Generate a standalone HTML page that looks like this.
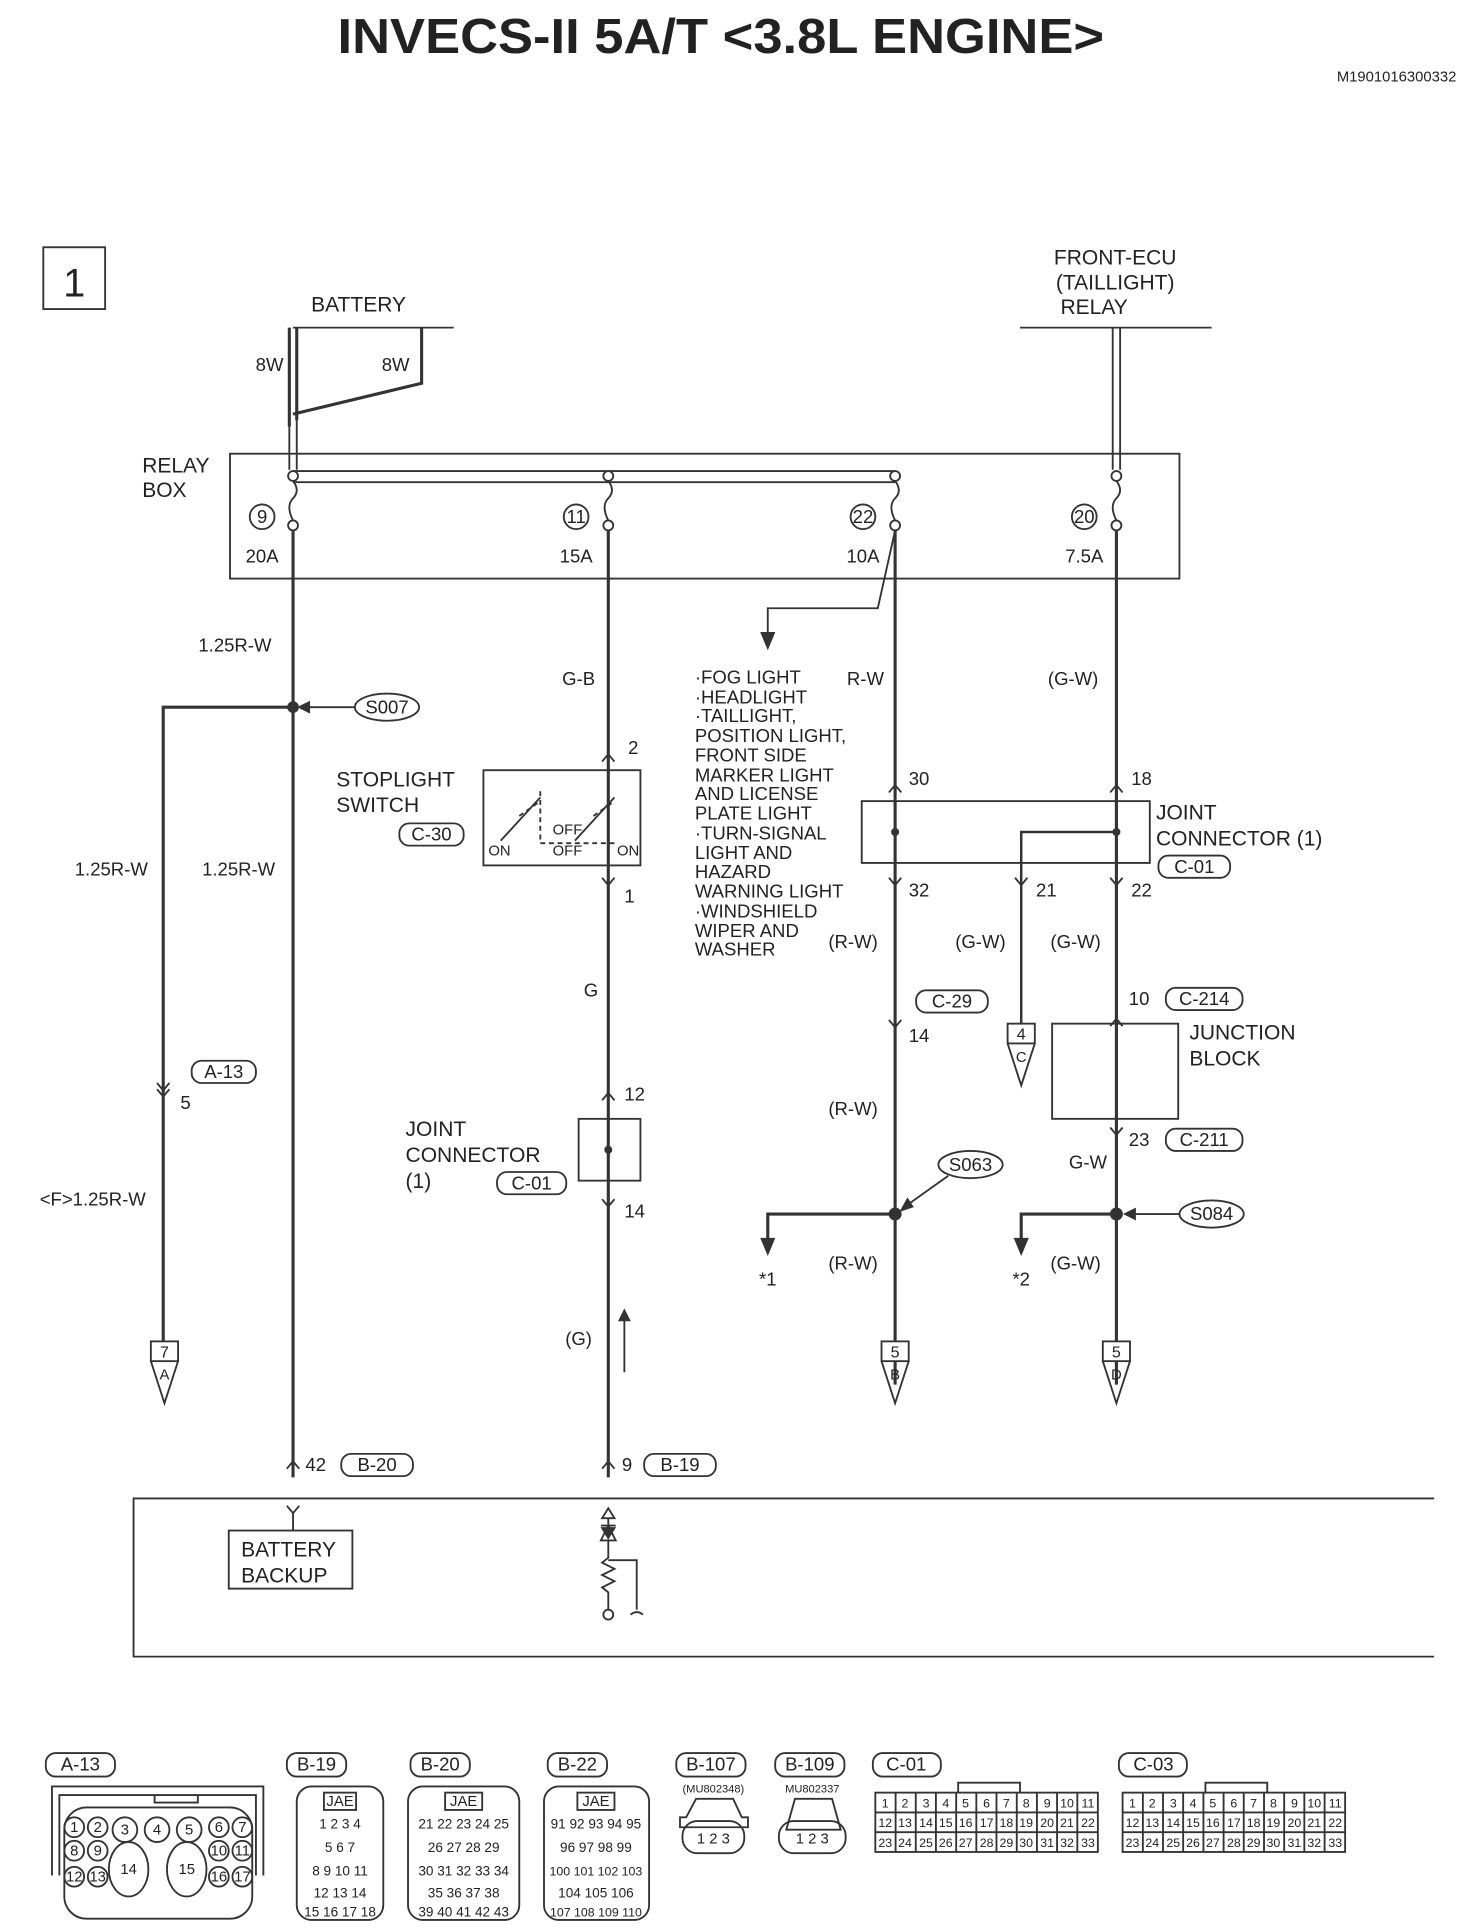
<!DOCTYPE html>
<html><head><meta charset="utf-8"><style>
html,body{margin:0;padding:0;background:#fff}
svg{display:block}
text{font-family:"Liberation Sans",sans-serif;fill:#222}
.l{font-size:17px}
.m{font-size:15px;font-family:"Liberation Sans Narrow","Liberation Sans",sans-serif}
.s{font-size:12px}
.b{font-size:13px}
</style></head><body>
<svg width="1472" height="1928" viewBox="0 0 1190.6 1559.5" xmlns="http://www.w3.org/2000/svg" stroke="#333" fill="none" stroke-width="1.5">
<text x="583" y="43" text-anchor="middle" style="font-size:40px;font-weight:bold" textLength="620" lengthAdjust="spacingAndGlyphs" stroke="none">INVECS-II 5A/T &lt;3.8L ENGINE&gt;</text>
<text x="1178" y="66" text-anchor="end" class="s" stroke="none">M1901016300332</text>
<rect x="35" y="200" width="50" height="50"/><text x="60" y="240" text-anchor="middle" style="font-size:32px" stroke="none">1</text>

<text x="290" y="252" text-anchor="middle" class="l" stroke="none">BATTERY</text>
<line x1="237" y1="265" x2="367" y2="265"/>
<path d="M234 265V345M240 265V340M341 265V310L237 335" stroke-width="2.5"/>
<text x="218" y="300" text-anchor="middle" class="m" stroke="none">8W</text>
<text x="320" y="300" text-anchor="middle" class="m" stroke="none">8W</text>
<text x="902" y="214" text-anchor="middle" class="l" stroke="none">FRONT-ECU</text>
<text x="902" y="234" text-anchor="middle" class="l" stroke="none">(TAILLIGHT)</text>
<text x="885" y="254" text-anchor="middle" class="l" stroke="none">RELAY</text>
<line x1="825" y1="265" x2="980" y2="265"/>
<path d="M900 265V380M906 265V380"/>
<rect x="186" y="367" width="768" height="101"/>
<text x="115" y="382" class="l" stroke="none">RELAY</text><text x="115" y="402" class="l" stroke="none">BOX</text>
<path d="M234 340V380M240 340V380M237 381H724M237 390H724" />
<g fill="#fff">
<circle cx="237" cy="385" r="4"/><circle cx="492" cy="385" r="4"/><circle cx="724" cy="385" r="4"/><circle cx="903" cy="385" r="4"/>
<circle cx="237" cy="425" r="4"/><circle cx="492" cy="425" r="4"/><circle cx="724" cy="425" r="4"/><circle cx="903" cy="425" r="4"/>
</g>
<path d="M237 389q6 8 0 14t0 18M492 389q6 8 0 14t0 18M724 389q6 8 0 14t0 18M903 389q6 8 0 14t0 18"/>
<g stroke="none" class="m" text-anchor="middle">
<circle cx="212" cy="418" r="10" stroke="#333" fill="none"/><text x="212" y="423">9</text>
<circle cx="466" cy="418" r="10" stroke="#333" fill="none"/><text x="466" y="423">11</text>
<circle cx="698" cy="418" r="10" stroke="#333" fill="none"/><text x="698" y="423">22</text>
<circle cx="877" cy="418" r="10" stroke="#333" fill="none"/><text x="877" y="423">20</text>
<text x="212" y="455">20A</text><text x="466" y="455">15A</text><text x="698" y="455">10A</text><text x="877" y="455">7.5A</text>
</g>
<path d="M237 429V1195M492 429V1195M724 429V1120M903 429V1120" stroke-width="2.5"/>
<path d="M724 429L710 492H621V520"/><path d="M616 512l5 12 5-12z" fill="#333"/>
<g class="m" stroke="none" text-anchor="middle">
<text x="190" y="527">1.25R-W</text><text x="468" y="554">G-B</text><text x="700" y="554">R-W</text><text x="868" y="554">(G-W)</text>
<text x="90" y="708">1.25R-W</text><text x="193" y="708">1.25R-W</text>
<text x="75" y="975">&lt;F&gt;1.25R-W</text>
</g>
<ellipse cx="313" cy="572" rx="26" ry="11"/><text x="313" y="577" text-anchor="middle" class="m" stroke="none">S007</text>
<path d="M287 572H244"/><path d="M250 568l-8 4 8 4z" fill="#333"/>
<circle cx="237" cy="572" r="4" fill="#333"/>
<path d="M237 572H132V1085" stroke-width="2.5"/>
<path d="M127 876l5 6 5-6M127 881l5 6 5-6"/>
<rect x="155" y="858" width="52" height="18" rx="8"/><text x="181" y="872" text-anchor="middle" class="m" stroke="none">A-13</text>
<text x="150" y="897" text-anchor="middle" class="m" stroke="none">5</text>
<rect x="122" y="1085" width="22" height="16"/><text x="133" y="1098" text-anchor="middle" class="b" stroke="none">7</text>
<path d="M122 1101L133 1135L144 1101"/><text x="133" y="1116" text-anchor="middle" class="s" stroke="none">A</text>
<text x="272" y="636" class="l" stroke="none">STOPLIGHT</text><text x="272" y="657" class="l" stroke="none">SWITCH</text>
<rect x="323" y="666" width="52" height="18" rx="8"/><text x="349" y="680" text-anchor="middle" class="m" stroke="none">C-30</text>
<rect x="391" y="623" width="127" height="77"/>
<path d="M437 640V682M420 660L437 648M480 660L497 648M437 682H497" stroke-dasharray="4 3"/>
<path d="M405 680L437 645M465 680L497 645"/>
<text x="395" y="692" class="s" stroke="none">ON</text><text x="447" y="675" class="s" stroke="none">OFF</text><text x="447" y="692" class="s" stroke="none">OFF</text><text x="499" y="692" class="s" stroke="none">ON</text>
<text x="508" y="610" class="m" stroke="none">2</text><text x="505" y="730" class="m" stroke="none">1</text>
<path d="M487 616l5-6 5 6M487 710l5 6 5-6M487 890l5-6 5 6M487 970l5 6 5-6M487 1188l5-6 5 6"/>
<path d="M719 641l5-6 5 6M898 641l5-6 5 6M719 710l5 6 5-6M821 710l5 6 5-6M898 710l5 6 5-6M719 825l5 6 5-6M898 830l5-6 5 6M898 912l5 6 5-6M232 1188l5-6 5 6"/>
<text x="478" y="806" text-anchor="middle" class="m" stroke="none">G</text>
<text x="505" y="890" class="m" stroke="none">12</text>
<rect x="468" y="905" width="50" height="50"/><circle cx="492" cy="930" r="2.5" fill="#333"/>
<text x="328" y="919" class="l" stroke="none">JOINT</text><text x="328" y="940" class="l" stroke="none">CONNECTOR</text><text x="328" y="961" class="l" stroke="none">(1)</text>
<rect x="402" y="948" width="56" height="18" rx="8"/><text x="430" y="962" text-anchor="middle" class="m" stroke="none">C-01</text>
<text x="505" y="985" class="m" stroke="none">14</text>
<text x="468" y="1088" text-anchor="middle" class="m" stroke="none">(G)</text>
<path d="M505 1110V1062"/><path d="M501 1068l4-8 4 8z" fill="#333"/>
<text x="247" y="1190" class="m" stroke="none">42</text>
<rect x="276" y="1176" width="58" height="18" rx="8"/><text x="305" y="1190" text-anchor="middle" class="m" stroke="none">B-20</text>
<text x="503" y="1190" class="m" stroke="none">9</text>
<rect x="521" y="1176" width="58" height="18" rx="8"/><text x="550" y="1190" text-anchor="middle" class="m" stroke="none">B-19</text>
<path d="M1160 1212H108V1340H1160"/>
<path d="M232 1218l5 6 5-6M237 1224V1238"/>
<rect x="185" y="1238" width="100" height="47"/>
<text x="195" y="1259" class="l" stroke="none">BATTERY</text><text x="195" y="1280" class="l" stroke="none">BACKUP</text>
<path d="M487 1228l5-8 5 8zM492 1228V1234M486 1234h12M486 1246l6-12 6 12zM492 1246V1260l-5 4 10 5-10 5 10 5-10 5 5 4V1302" />
<path d="M487 1236l5 8 5-8z" fill="#333"/>
<circle cx="492" cy="1306" r="4"/><path d="M492 1262H515V1302M510 1306q5 -4 10 0"/>
<g class="m" stroke="none">
<text x="562" y="553">·FOG LIGHT</text><text x="562" y="569">·HEADLIGHT</text><text x="562" y="584">·TAILLIGHT,</text><text x="562" y="600">POSITION LIGHT,</text><text x="562" y="616">FRONT SIDE</text><text x="562" y="632">MARKER LIGHT</text><text x="562" y="647">AND LICENSE</text><text x="562" y="663">PLATE LIGHT</text><text x="562" y="679">·TURN-SIGNAL</text><text x="562" y="695">LIGHT AND</text><text x="562" y="710">HAZARD</text><text x="562" y="726">WARNING LIGHT</text><text x="562" y="742">·WINDSHIELD</text><text x="562" y="758">WIPER AND</text><text x="562" y="773">WASHER</text>
</g>
<g class="m" stroke="none">
<text x="735" y="635">30</text><text x="915" y="635">18</text><text x="735" y="725">32</text><text x="838" y="725">21</text><text x="915" y="725">22</text>
<text x="690" y="767" text-anchor="middle">(R-W)</text><text x="793" y="767" text-anchor="middle">(G-W)</text><text x="870" y="767" text-anchor="middle">(G-W)</text>
<text x="735" y="843">14</text><text x="913" y="813">10</text><text x="913" y="927">23</text>
<text x="690" y="902" text-anchor="middle">(R-W)</text><text x="880" y="945" text-anchor="middle">G-W</text>
<text x="690" y="1027" text-anchor="middle">(R-W)</text><text x="870" y="1027" text-anchor="middle">(G-W)</text>
<text x="621" y="1040" text-anchor="middle">*1</text><text x="826" y="1040" text-anchor="middle">*2</text>
</g>
<rect x="697" y="648" width="233" height="50"/>
<circle cx="724" cy="673" r="2.5" fill="#333"/><circle cx="903" cy="673" r="2.5" fill="#333"/>
<path d="M903 673H826V828" stroke-width="2"/>
<text x="935" y="663" class="l" stroke="none">JOINT</text><text x="935" y="684" class="l" stroke="none">CONNECTOR (1)</text>
<rect x="937" y="692" width="58" height="18" rx="8"/><text x="966" y="706" text-anchor="middle" class="m" stroke="none">C-01</text>
<rect x="741" y="801" width="58" height="18" rx="8"/><text x="770" y="815" text-anchor="middle" class="m" stroke="none">C-29</text>
<rect x="815" y="828" width="22" height="16"/><text x="826" y="841" text-anchor="middle" class="b" stroke="none">4</text>
<path d="M815 844L826 878L837 844"/><text x="826" y="859" text-anchor="middle" class="s" stroke="none">C</text>
<rect x="943" y="799" width="62" height="18" rx="8"/><text x="974" y="813" text-anchor="middle" class="m" stroke="none">C-214</text>
<rect x="943" y="913" width="62" height="18" rx="8"/><text x="974" y="927" text-anchor="middle" class="m" stroke="none">C-211</text>
<rect x="851" y="828" width="102" height="77"/>
<text x="962" y="841" class="l" stroke="none">JUNCTION</text><text x="962" y="862" class="l" stroke="none">BLOCK</text>
<ellipse cx="785" cy="942" rx="26" ry="11"/><text x="785" y="947" text-anchor="middle" class="m" stroke="none">S063</text>
<path d="M767 951L732 976"/><path d="M734 970l-5 9 9-3z" fill="#333"/>
<circle cx="724" cy="982" r="4.5" fill="#333"/>
<path d="M724 982H621V1008" stroke-width="2.5"/><path d="M616 1002l5 12 5-12z" fill="#333"/>
<ellipse cx="980" cy="982" rx="26" ry="11"/><text x="980" y="987" text-anchor="middle" class="m" stroke="none">S084</text>
<path d="M954 982H912"/><path d="M918 978l-8 4 8 4z" fill="#333"/>
<circle cx="903" cy="982" r="4.5" fill="#333"/>
<path d="M903 982H826V1008" stroke-width="2.5"/><path d="M821 1002l5 12 5-12z" fill="#333"/>
<rect x="713" y="1085" width="22" height="16" fill="#fff"/><text x="724" y="1098" text-anchor="middle" class="b" stroke="none">5</text>
<path d="M713 1101L724 1135L735 1101"/><text x="724" y="1116" text-anchor="middle" class="s" stroke="none">B</text>
<rect x="892" y="1085" width="22" height="16" fill="#fff"/><text x="903" y="1098" text-anchor="middle" class="b" stroke="none">5</text>
<path d="M892 1101L903 1135L914 1101"/><text x="903" y="1116" text-anchor="middle" class="s" stroke="none">D</text>

<g class="m" stroke="none" text-anchor="middle">
<text x="65" y="1432">A-13</text><text x="256" y="1432">B-19</text><text x="356" y="1432">B-20</text><text x="467" y="1432">B-22</text>
<text x="575" y="1432">B-107</text><text x="655" y="1432">B-109</text><text x="733" y="1432">C-01</text><text x="933" y="1432">C-03</text>
</g>
<rect x="37" y="1418" width="56" height="19" rx="8"/><rect x="232" y="1418" width="48" height="19" rx="8"/><rect x="332" y="1418" width="48" height="19" rx="8"/><rect x="443" y="1418" width="48" height="19" rx="8"/><rect x="547" y="1418" width="56" height="19" rx="8"/><rect x="627" y="1418" width="56" height="19" rx="8"/><rect x="706" y="1418" width="55" height="19" rx="8"/><rect x="905" y="1418" width="55" height="19" rx="8"/>
<path d="M42 1517V1445H213V1517M48 1517V1452H207V1517M125 1452V1458H160V1452"/>
<rect x="52" y="1462" width="152" height="90" rx="18"/>
<g fill="none">
<circle cx="60" cy="1478" r="8"/><circle cx="79" cy="1478" r="8"/><circle cx="101" cy="1480" r="10"/><circle cx="127" cy="1480" r="10"/><circle cx="153" cy="1480" r="10"/><circle cx="177" cy="1478" r="8"/><circle cx="196" cy="1478" r="8"/>
<circle cx="60" cy="1497" r="8"/><circle cx="79" cy="1497" r="8"/><circle cx="177" cy="1497" r="8"/><circle cx="196" cy="1497" r="8"/>
<circle cx="60" cy="1518" r="8"/><circle cx="79" cy="1518" r="8"/><ellipse cx="104" cy="1512" rx="16" ry="22"/><ellipse cx="151" cy="1512" rx="16" ry="22"/><circle cx="177" cy="1518" r="8"/><circle cx="196" cy="1518" r="8"/>
</g>
<g class="s" stroke="none" text-anchor="middle">
<text x="60" y="1482">1</text><text x="79" y="1482">2</text><text x="101" y="1484">3</text><text x="127" y="1484">4</text><text x="153" y="1484">5</text><text x="177" y="1482">6</text><text x="196" y="1482">7</text>
<text x="60" y="1501">8</text><text x="79" y="1501">9</text><text x="177" y="1501">10</text><text x="196" y="1501">11</text>
<text x="60" y="1522">12</text><text x="79" y="1522">13</text><text x="104" y="1516">14</text><text x="151" y="1516">15</text><text x="177" y="1522">16</text><text x="196" y="1522">17</text>
</g>
<rect x="240" y="1445" width="70" height="108" rx="12"/><rect x="262" y="1450" width="26" height="14"/><text x="275" y="1461" text-anchor="middle" class="s" stroke="none">JAE</text>
<rect x="330" y="1445" width="90" height="108" rx="12"/><rect x="360" y="1450" width="30" height="14"/><text x="375" y="1461" text-anchor="middle" class="s" stroke="none">JAE</text>
<rect x="440" y="1445" width="85" height="108" rx="12"/><rect x="467" y="1450" width="30" height="14"/><text x="482" y="1461" text-anchor="middle" class="s" stroke="none">JAE</text>
<g class="s" stroke="none" text-anchor="middle" style="font-size:11px">
<text x="275" y="1479">1 2 3 4</text><text x="275" y="1498">5 6 7</text><text x="275" y="1517">8 9 10 11</text><text x="275" y="1535">12 13 14</text><text x="275" y="1550">15 16 17 18</text>
<text x="375" y="1479">21 22 23 24 25</text><text x="375" y="1498">26 27 28 29</text><text x="375" y="1517">30 31 32 33 34</text><text x="375" y="1535">35 36 37 38</text><text x="375" y="1550">39 40 41 42 43</text>
<text x="482" y="1479">91 92 93 94 95</text><text x="482" y="1498">96 97 98 99</text><text x="482" y="1517" style="font-size:10px">100 101 102 103</text><text x="482" y="1535">104 105 106</text><text x="482" y="1550" style="font-size:10px">107 108 109 110</text>
</g>
<text x="577" y="1450" text-anchor="middle" stroke="none" style="font-size:9px">(MU802348)</text>
<text x="657" y="1450" text-anchor="middle" stroke="none" style="font-size:9px">MU802337</text>
<path d="M563 1455H593L600 1470H605V1478H550V1470H555Z"/><rect x="552" y="1473" width="50" height="26" rx="12"/>
<path d="M643 1455H673L680 1480H636Z"/><rect x="630" y="1473" width="54" height="26" rx="12"/>
<text x="577" y="1491" text-anchor="middle" class="s" stroke="none">1 2 3</text><text x="657" y="1491" text-anchor="middle" class="s" stroke="none">1 2 3</text>
<g>
<rect x="708" y="1450" width="180" height="48"/>
<path d="M708 1466H888M708 1482H888M724.4 1450V1498M740.7 1450V1498M757 1450V1498M773.4 1450V1498M789.7 1450V1498M806 1450V1498M822.4 1450V1498M838.7 1450V1498M855 1450V1498M871.4 1450V1498"/>
<path d="M775 1450V1442H825V1450"/>
</g>
<g class="s" stroke="none" text-anchor="middle" style="font-size:10px">
<text x="716" y="1462">1</text><text x="732" y="1462">2</text><text x="749" y="1462">3</text><text x="765" y="1462">4</text><text x="781" y="1462">5</text><text x="798" y="1462">6</text><text x="814" y="1462">7</text><text x="830" y="1462">8</text><text x="847" y="1462">9</text><text x="863" y="1462">10</text><text x="880" y="1462">11</text>
<text x="716" y="1478">12</text><text x="732" y="1478">13</text><text x="749" y="1478">14</text><text x="765" y="1478">15</text><text x="781" y="1478">16</text><text x="798" y="1478">17</text><text x="814" y="1478">18</text><text x="830" y="1478">19</text><text x="847" y="1478">20</text><text x="863" y="1478">21</text><text x="880" y="1478">22</text>
<text x="716" y="1494">23</text><text x="732" y="1494">24</text><text x="749" y="1494">25</text><text x="765" y="1494">26</text><text x="781" y="1494">27</text><text x="798" y="1494">28</text><text x="814" y="1494">29</text><text x="830" y="1494">30</text><text x="847" y="1494">31</text><text x="863" y="1494">32</text><text x="880" y="1494">33</text>
</g>
<g transform="translate(200,0)">
<rect x="708" y="1450" width="180" height="48"/>
<path d="M708 1466H888M708 1482H888M724.4 1450V1498M740.7 1450V1498M757 1450V1498M773.4 1450V1498M789.7 1450V1498M806 1450V1498M822.4 1450V1498M838.7 1450V1498M855 1450V1498M871.4 1450V1498"/>
<path d="M775 1450V1442H825V1450"/>
<g class="s" stroke="none" text-anchor="middle" style="font-size:10px">
<text x="716" y="1462">1</text><text x="732" y="1462">2</text><text x="749" y="1462">3</text><text x="765" y="1462">4</text><text x="781" y="1462">5</text><text x="798" y="1462">6</text><text x="814" y="1462">7</text><text x="830" y="1462">8</text><text x="847" y="1462">9</text><text x="863" y="1462">10</text><text x="880" y="1462">11</text>
<text x="716" y="1478">12</text><text x="732" y="1478">13</text><text x="749" y="1478">14</text><text x="765" y="1478">15</text><text x="781" y="1478">16</text><text x="798" y="1478">17</text><text x="814" y="1478">18</text><text x="830" y="1478">19</text><text x="847" y="1478">20</text><text x="863" y="1478">21</text><text x="880" y="1478">22</text>
<text x="716" y="1494">23</text><text x="732" y="1494">24</text><text x="749" y="1494">25</text><text x="765" y="1494">26</text><text x="781" y="1494">27</text><text x="798" y="1494">28</text><text x="814" y="1494">29</text><text x="830" y="1494">30</text><text x="847" y="1494">31</text><text x="863" y="1494">32</text><text x="880" y="1494">33</text>
</g>
</g>
</svg>
</body></html>
